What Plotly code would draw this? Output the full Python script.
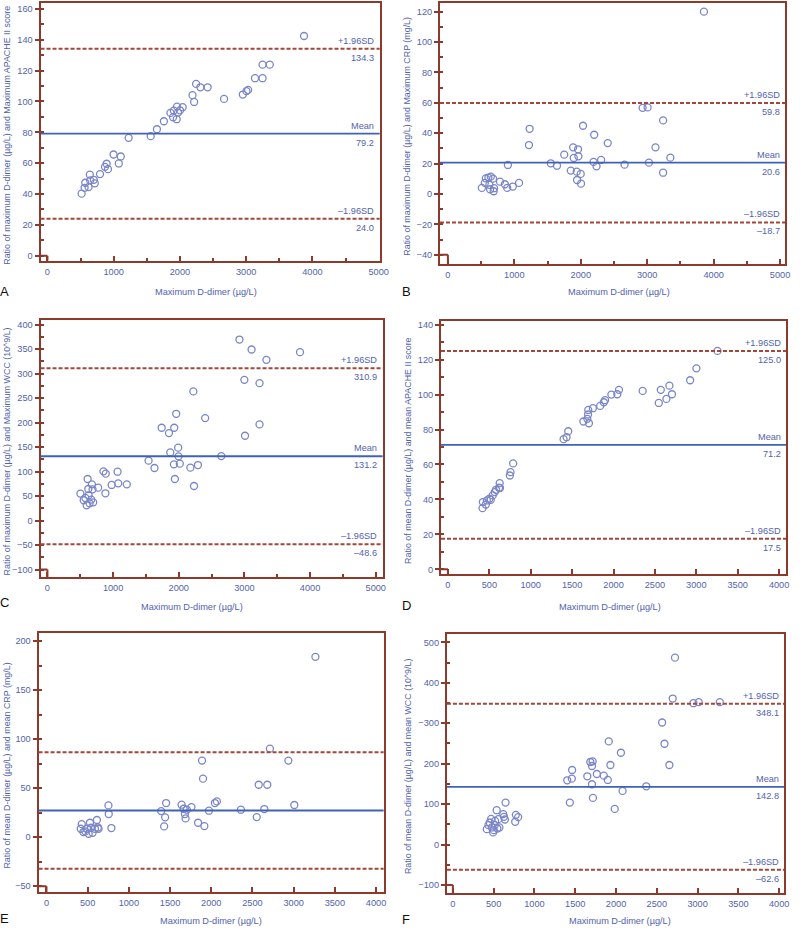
import plotly.graph_objects as go
from plotly.subplots import make_subplots

# A: maximum D-dimer vs ratio max D-dimer / max APACHE II
a_x = [516, 561, 571, 621, 640, 645, 700, 715, 794, 869, 894, 914, 998, 1077, 1107, 1226,
       1559, 1653, 1758, 1857, 1897, 1907, 1951, 1956, 1971, 2001, 2041, 2190, 2214, 2244,
       2309, 2418, 2666, 2949, 3004, 3029, 3133, 3247, 3247, 3356, 3873]
a_y = [40.2, 44.0, 47.3, 44.5, 52.5, 48.8, 49.2, 46.9, 52.9, 57.6, 59.6, 56.1, 65.6, 59.8, 64.3, 76.4,
       77.5, 82.0, 87.2, 92.6, 89.8, 94.1, 88.5, 96.7, 92.8, 94.3, 96.3, 104.1, 99.7, 111.4,
       109.2, 109.2, 101.7, 104.5, 106.7, 107.5, 115.1, 115.1, 123.9, 123.9, 142.5]
a_lines = [79.2, 134.3, 24.0]

# B: maximum D-dimer vs ratio max D-dimer / max CRP
b_x = [511, 556, 570, 610, 625, 635, 645, 680, 689, 694, 784, 858, 893, 903, 977, 1071,
       1230, 1220, 1548, 1642, 1751, 1850, 1885, 1895, 1939, 1959, 1964, 1944, 1999, 2004,
       2034, 2202, 2192, 2237, 2306, 2406, 2659, 2931, 3006, 3026, 3125, 3239, 3239, 3348, 3854]
b_y = [4.0, 7.3, 10.3, 10.8, 6.0, 3.1, 11.4, 10.1, 1.8, 3.8, 8.1, 6.4, 4.0, 19.1, 4.9, 7.3,
       42.9, 32.2, 20.2, 18.6, 25.9, 15.4, 30.7, 23.7, 14.7, 29.4, 24.8, 9.2, 13.2, 6.8,
       44.9, 39.0, 21.1, 18.2, 22.4, 33.5, 19.3, 56.7, 57.0, 20.6, 30.7, 48.4, 14.0, 23.9, 120.0]
b_lines = [20.6, 59.8, -18.7]

# C: maximum D-dimer vs ratio max D-dimer / max WCC
c_x = [502, 552, 577, 597, 612, 622, 627, 642, 667, 677, 687, 697, 772, 853, 888, 883,
       978, 1068, 1078, 1209, 1540, 1630, 1740, 1851, 1871, 1931, 1926, 1941, 1961, 1991,
       1996, 2016, 2177, 2222, 2232, 2292, 2402, 2648, 2924, 2999, 3009, 3109, 3230, 3230,
       3335, 3847]
c_y = [55.0, 41.4, 46.1, 31.1, 84.8, 64.4, 51.5, 35.2, 42.7, 73.9, 63.7, 37.2, 67.1, 100.4, 95.7, 55.6,
       72.6, 99.7, 75.9, 73.9, 122.2, 107.2, 189.4, 178.5, 139.1, 189.4, 114.7, 84.8, 217.9, 148.7,
       131.0, 116.1, 107.9, 263.5, 70.5, 113.3, 209.1, 131.6, 369.4, 287.2, 173.1, 349.1, 280.4, 196.2,
       328.0, 343.6]
c_lines = [131.2, 310.9, -48.6]

# D: D-dimer vs ratio mean D-dimer / mean APACHE II
d_x = [418, 422, 458, 470, 501, 517, 541, 565, 581, 617, 625, 629, 748, 756, 788,
       1397, 1433, 1453, 1636, 1684, 1692, 1695, 1703, 1751, 1839, 1883, 1898, 1974, 2046, 2066,
       2352, 2547, 2571, 2639, 2675, 2706, 2925, 3001, 3256]
d_y = [35.0, 38.5, 37.1, 39.4, 40.4, 39.8, 42.3, 44.2, 45.5, 46.7, 49.3, 46.5, 53.7, 55.6, 60.6,
       74.5, 75.6, 79.0, 84.6, 86.1, 88.6, 91.2, 83.6, 92.2, 93.5, 95.6, 96.8, 100.0, 100.2, 102.7,
       102.1, 95.2, 102.7, 97.5, 105.1, 100.2, 108.2, 115.0, 125.0]
d_lines = [71.2, 125.0, 17.5]

# E: D-dimer vs ratio mean D-dimer / mean CRP
e_x = [416, 428, 448, 472, 492, 512, 528, 540, 560, 588, 612, 624, 632, 752, 756, 788,
       1392, 1440, 1428, 1452, 1640, 1664, 1680, 1688, 1704, 1760, 1840, 1888, 1900, 1916,
       1972, 2044, 2068, 2360, 2552, 2576, 2644, 2680, 2712, 2936, 3008, 3264]
e_y = [8.6, 13.3, 5.2, 5.9, 8.6, 3.5, 14.7, 9.6, 4.5, 8.6, 17.5, 9.9, 8.6, 32.4, 23.6, 9.3,
       26.6, 20.2, 11.0, 34.8, 33.1, 29.0, 23.6, 19.1, 28.0, 30.7, 14.7, 78.1, 59.7, 11.3,
       27.0, 34.8, 36.5, 28.0, 20.5, 53.5, 28.7, 53.5, 90.3, 78.1, 32.8, 184.0]
e_lines = [27.2, 86.7, -32.3]

# F: D-dimer vs ratio mean D-dimer / mean WCC
f_x = [416, 436, 452, 469, 477, 493, 501, 513, 517, 537, 545, 558, 570, 618, 626, 638, 646,
       764, 772, 800, 1402, 1434, 1458, 1462, 1648, 1685, 1713, 1705, 1705, 1717, 1765, 1850,
       1899, 1911, 1931, 1984, 2060, 2080, 2371, 2565, 2594, 2654, 2695, 2723, 2949, 3014, 3272]
f_y = [38.1, 47.9, 54.5, 63.6, 42.2, 29.9, 35.6, 47.9, 58.6, 84.9, 39.7, 62.8, 42.2, 75.1, 68.5, 61.9, 103.8,
       56.2, 73.4, 67.7, 158.9, 103.8, 163.0, 184.4, 168.8, 204.1, 205.7, 194.3, 149.1, 115.4, 174.5, 170.4,
       159.7, 255.1, 196.7, 88.2, 227.1, 132.6, 144.1, 301.9, 249.3, 196.7, 361.1, 462.2, 349.6, 352.1, 352.1]
f_lines = [142.8, 348.1, -62.6]
f_ticks = [-100, 0, 100, 200, 300, 400, 500]
f_ticktext = ["\u2212100", "0", "100", "200", "\u2212300", "400", "500"]

x_title = "Maximum D-dimer (\u00b5g/L)"
y_titles = [
    "Ratio of maximum D-dimer (\u00b5g/L) and Maximum APACHE II score",
    "Ratio of maximum D-dimer (\u00b5g/L) and Maximum CRP (mg/L)",
    "Ratio of maximum D-dimer (\u00b5g/L) and Maximum WCC (10^9/L)",
    "Ratio of mean D-dimer (\u00b5g/L) and mean APACHE II score",
    "Ratio of mean D-dimer (\u00b5g/L) and mean CRP (mg/L)",
    "Ratio of mean D-dimer (\u00b5g/L) and mean WCC (10^9/L)",
]
letters = ["A", "B", "C", "D", "E", "F"]

FRAME = "#8c3a2c"
TXT = "#5263ad"
MARK = "#7a86c8"
MEAN = "#4062b4"
LIMIT = "#a4463a"
FONT = "Liberation Sans, Arial, sans-serif"
FS = 9.2

W, H = 800, 928


def px(x):
    return min(max(x / W, 0), 1)


def py(y):
    return min(max(1 - y / H, 0), 1)


# frame boxes in pixels (left, top, right, bottom), axis ranges, tick steps
panels = [
    dict(x=a_x, y=a_y, lines=a_lines, box=(41, 2, 384, 260), xr=[-104, 5015], yr=[-3.3, 163.9],
         xdt=1000, xmin=500, ydt=20, ymin=10, y0=0, labels=True),
    dict(x=b_x, y=b_y, lines=b_lines, box=(445, 2, 794, 263), xr=[-119, 5075], yr=[-45.9, 125.7],
         xdt=1000, xmin=500, ydt=20, ymin=10, y0=-40, labels=True),
    dict(x=c_x, y=c_y, lines=c_lines, box=(41, 319, 387, 577), xr=[-105, 5105], yr=[-116, 410],
         xdt=1000, xmin=500, ydt=50, ymin=25, y0=-100, labels=True),
    dict(x=d_x, y=d_y, lines=d_lines, box=(446, 320, 795, 574), xr=[-84, 4084], yr=[-2.9, 142.3],
         xdt=500, xmin=None, ydt=20, ymin=10, y0=0, labels=True),
    dict(x=e_x, y=e_y, lines=e_lines, box=(39, 633, 388, 892), xr=[-96, 4092], yr=[-56, 208],
         xdt=500, xmin=None, ydt=50, ymin=25, y0=-50, labels=False),
    dict(x=f_x, y=f_y, lines=f_lines, box=(452, 634, 793, 893), xr=[-73, 4060], yr=[-120, 520],
         xdt=500, xmin=None, ydt=100, ymin=50, y0=-100, labels=True),
]
title_pos = [(7, 208, 291), (412, 626, 291), (7, 194, 607), (412, 617, 607), (7, 213, 921), (412, 627, 921)]
letter_pos = [(5, 291), (411, 291), (5, 602), (411, 605), (5, 918), (411, 919)]

fig = make_subplots(rows=3, cols=2)

for i, p in enumerate(panels):
    row, col = i // 2 + 1, i % 2 + 1
    l, t, r, b = p["box"]

    fig.add_trace(go.Scatter(
        x=p["x"], y=p["y"], mode="markers",
        marker=dict(symbol="circle-open", size=7, color=MARK, line=dict(width=1.3)),
        showlegend=False, hoverinfo="x+y"), row=row, col=col)

    mean, up, lo = p["lines"]
    fig.add_hline(y=mean, line=dict(color=MEAN, width=1.8), row=row, col=col)
    for v in (up, lo):
        fig.add_hline(y=v, line=dict(color=LIMIT, width=2, dash="4px,2px"), row=row, col=col)

    xa = "x" if i == 0 else "x%d" % (i + 1)
    ya = "y" if i == 0 else "y%d" % (i + 1)

    # little corner bracket at the origin of the original axes
    fig.add_shape(type="line", xref=xa, yref=ya, x0=p["xr"][0], x1=0, y0=p["y0"], y1=p["y0"],
                  line=dict(color=FRAME, width=2))
    fig.add_shape(type="line", xref=xa, yref=ya, x0=0, x1=0, y0=p["yr"][0], y1=p["y0"],
                  line=dict(color=FRAME, width=2))

    if p["labels"]:
        for v, top, bot in ((up, "+1.96SD", "%.1f" % up), (mean, "Mean", "%.1f" % mean),
                            (lo, "\u20131.96SD", ("%.1f" % lo).replace("-", "\u2013"))):
            fig.add_annotation(xref=xa + " domain", yref=ya, x=0.99, y=v, text=top,
                               xanchor="right", yanchor="bottom", showarrow=False, yshift=1,
                               font=dict(size=FS, color=TXT, family=FONT))
            fig.add_annotation(xref=xa + " domain", yref=ya, x=0.99, y=v, text=bot,
                               xanchor="right", yanchor="top", showarrow=False, yshift=-2,
                               font=dict(size=FS, color=TXT, family=FONT))

    xminor = dict(dtick=p["xmin"], ticks="inside", ticklen=3, tickcolor=FRAME, tickwidth=1.5) \
        if p["xmin"] else dict(ticks="")
    fig.update_xaxes(domain=[px(l), px(r)], range=p["xr"], dtick=p["xdt"], tick0=0,
                     showline=True, mirror=True, linecolor=FRAME, linewidth=2,
                     ticks="inside", ticklen=5, tickwidth=1.5, tickcolor=FRAME,
                     minor=xminor, ticklabelstandoff=1, ticklabeloverflow="allow",
                     showgrid=False, zeroline=False,
                     tickfont=dict(size=FS, color=TXT, family=FONT),
                     row=row, col=col)
    yargs = dict(dtick=p["ydt"], tick0=0)
    if i == 5:
        yargs = dict(tickvals=f_ticks, ticktext=f_ticktext, tickmode="array")
    fig.update_yaxes(domain=[py(b), py(t)], range=p["yr"], **yargs,
                     showline=True, mirror=True, linecolor=FRAME, linewidth=2,
                     ticks="outside", ticklen=4, tickwidth=1.5, tickcolor=FRAME,
                     minor=dict(dtick=p["ymin"], tick0=0, ticks="inside", ticklen=3,
                                tickcolor=FRAME, tickwidth=1.5),
                     showgrid=False, zeroline=False, ticklabeloverflow="allow",
                     tickfont=dict(size=FS, color=TXT, family=FONT),
                     row=row, col=col)

    # axis titles and panel letters
    tx, xx, xy = title_pos[i]
    fig.add_annotation(xref="paper", yref="paper", x=px(tx), y=py((t + b) / 2 + 3),
                       text=y_titles[i], textangle=-90, showarrow=False,
                       xanchor="center", yanchor="middle",
                       font=dict(size=8.9, color=TXT, family=FONT))
    fig.add_annotation(xref="paper", yref="paper", x=px(xx), y=py(xy),
                       text=x_title, showarrow=False, xanchor="center", yanchor="middle",
                       font=dict(size=FS, color=TXT, family=FONT))
    lx, ly = letter_pos[i]
    fig.add_annotation(xref="paper", yref="paper", x=px(lx), y=py(ly),
                       text=letters[i], showarrow=False, xanchor="center", yanchor="middle",
                       font=dict(size=13, color="#111111", family=FONT))

fig.update_layout(
    width=W, height=H,
    margin=dict(l=0, r=0, t=0, b=0),
    plot_bgcolor="white",
    paper_bgcolor="white",
)

# drop the page's default body margin so the figure sits at the window corner
fig.write_html("out.html", config={"displayModeBar": False},
               post_script="document.body.style.margin='0';document.body.style.overflow='hidden';")
